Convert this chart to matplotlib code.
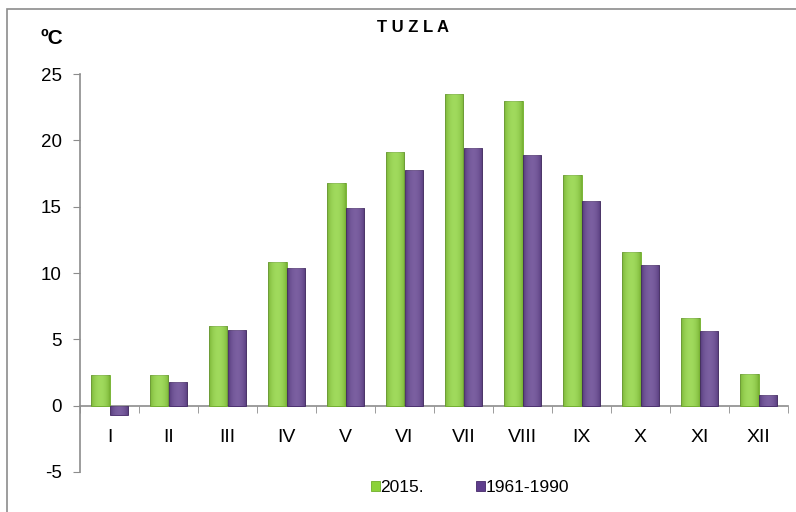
import numpy as np
import matplotlib.pyplot as plt
from matplotlib.patches import Rectangle

plt.rcParams['font.family'] = ['Liberation Sans', 'DejaVu Sans']
plt.rcParams['axes.unicode_minus'] = False

months = ["I", "II", "III", "IV", "V", "VI", "VII", "VIII", "IX", "X", "XI", "XII"]
t2015 = [2.3, 2.3, 6.0, 10.8, 16.8, 19.1, 23.5, 23.0, 17.4, 11.6, 6.6, 2.4]
t6190 = [-0.7, 1.8, 5.7, 10.4, 14.9, 17.8, 19.4, 18.9, 15.4, 10.6, 5.6, 0.8]
series_names = ["2015.", "1961-1990"]

green = "#8cd23a"
purple = "#5e3d8c"

fig = plt.figure(figsize=(7.96, 5.12), dpi=100)
ax = fig.add_axes([80 / 796, 1 - 472 / 512, 708 / 796, 398 / 512])

# outer chart frame
fig.patches.append(Rectangle((7 / 796, -0.01), 1.0, 1 - 9 / 512 + 0.01,
                             transform=fig.transFigure, fill=False,
                             edgecolor="#8c8c8c", linewidth=1.2))

x = np.arange(len(months))
w = 0.31
b1 = ax.bar(x - w / 2, t2015, w, color=green, edgecolor="#6fae2a", linewidth=0.6,
            label=series_names[0], zorder=3)
b2 = ax.bar(x + w / 2, t6190, w, color=purple, edgecolor="#45296a", linewidth=0.6,
            label=series_names[1], zorder=3)

# cylinder-like shading
grad = np.linspace(0, 1, 64)
shade = np.sin(grad * np.pi) ** 0.6
for bars in (b1, b2):
    for bar in bars:
        bx, by = bar.get_x(), bar.get_y()
        bw, bh = bar.get_width(), bar.get_height()
        img = ax.imshow(shade[None, :], cmap="gray", alpha=0.18, aspect="auto",
                        extent=(bx, bx + bw, by, by + bh), zorder=4,
                        vmin=0, vmax=1)
        img.set_clip_path(bar)

ax.set_xlim(-0.5, 11.5)
ax.set_ylim(-5, 25)
ax.set_yticks([-5, 0, 5, 10, 15, 20, 25])

ax.set_xticks(x)
ax.set_xticklabels(months)
ax.set_xticks(np.arange(-0.5, 12, 1), minor=True)
ax.tick_params(axis="x", which="major", length=0, labelsize=14, pad=17)
ax.tick_params(axis="x", which="minor", length=5, color="#8c8c8c", direction="out")
ax.tick_params(axis="y", length=5, color="#8c8c8c", labelsize=13.5, pad=8)

for s in ("top", "right"):
    ax.spines[s].set_visible(False)
ax.spines["bottom"].set_position(("data", 0))
ax.spines["left"].set_color("#8c8c8c")
ax.spines["bottom"].set_color("#8c8c8c")
ax.spines["left"].set_linewidth(1.2)
ax.spines["bottom"].set_linewidth(1.2)

fig.text(413 / 796, 1 - 28 / 512, "T U Z L A", ha="center", va="center",
         fontsize=12, fontweight="bold")
fig.text(52 / 796, 1 - 39 / 512, "ºC", ha="center", va="center",
         fontsize=15, fontweight="bold")

leg = fig.legend(handles=[b1, b2], labels=series_names, loc="center",
                 bbox_to_anchor=(470 / 796, 1 - 488 / 512), ncol=2, frameon=False,
                 handlelength=0.5, handleheight=0.5, handletextpad=0.05,
                 columnspacing=3.0, fontsize=12.5)

fig.savefig("out.png", dpi=100)
